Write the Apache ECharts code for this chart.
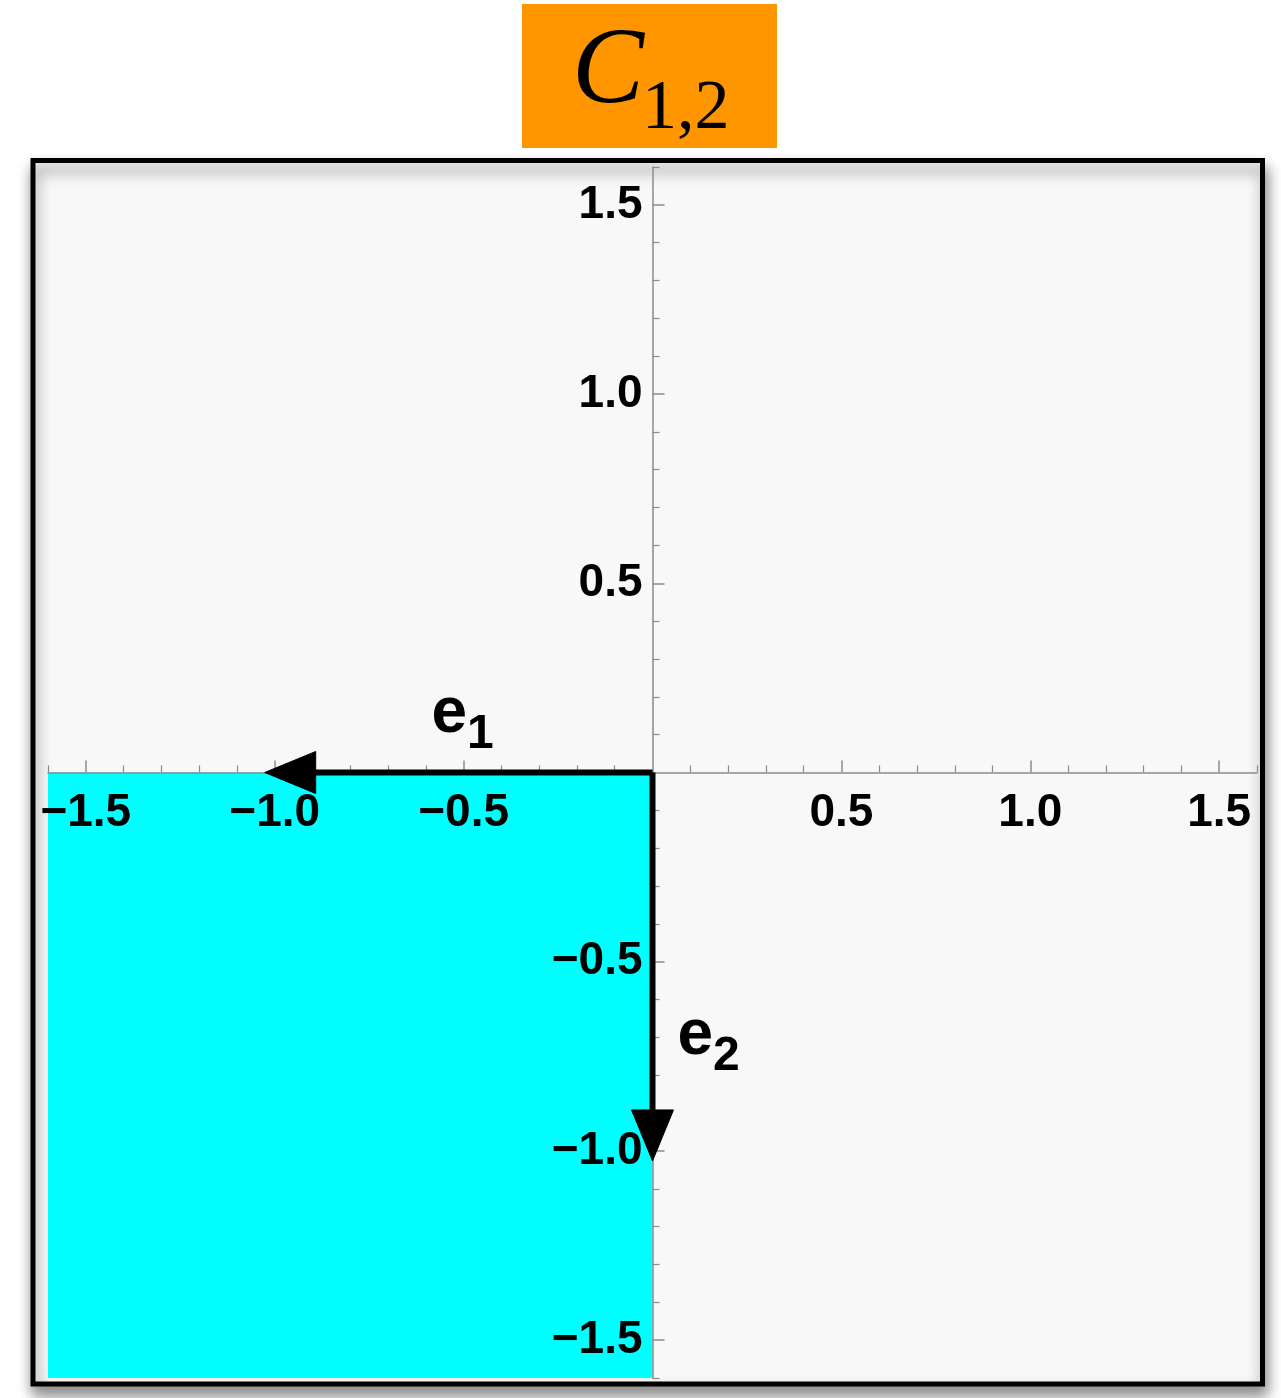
<!DOCTYPE html>
<html>
<head>
<meta charset="utf-8">
<script src="https://cdn.jsdelivr.net/npm/echarts@6/dist/echarts.min.js"></script>
<style>
  html, body { margin: 0; padding: 0; background: #ffffff; }
  #chart { width: 1281px; height: 1398px; }
</style>
</head>
<body>
<div id="chart"></div>
<script>
// Plot range shared by both axes
const axisRange = [-1.6, 1.6];
// Labelled (major) tick values
const majorTicks = [-1.5, -1.0, -0.5, 0.5, 1.0, 1.5];
// Unlabelled (minor) tick values
const minorTicks = [-1.6, -1.4, -1.3, -1.2, -1.1, -0.9, -0.8, -0.7, -0.6, -0.4, -0.3, -0.2, -0.1,
                    0.1, 0.2, 0.3, 0.4, 0.6, 0.7, 0.8, 0.9, 1.1, 1.2, 1.3, 1.4, 1.6];
// Shaded cone C_{1,2}: opposite corners [x, y]
const coneCorners = [[-1.6, -1.6], [0, 0]];
// Generating vectors e1, e2 (from the origin)
const vectorStart = [0, 0];
const vectorEnds = [[-1, 0], [0, -1]];
const vectorSubscripts = ['1', '2'];
// Where each vector's name is written (data coordinates, left-middle of the "e")
const vectorLabelAt = [[-0.585, 0.153], [0.066, -0.696]];

// Canvas and plot-area layout (pixels)
const CANVAS_W = 1281, CANVAS_H = 1398;
const GRID = { left: 48, right: 24, top: 167, bottom: 20 };
const PLOT_W = CANVAS_W - GRID.left - GRID.right;
const PLOT_H = CANVAS_H - GRID.top - GRID.bottom;

const AXIS_GREY = '#8c8c8c';
const LABEL_FONT = '"Liberation Sans", Arial, Helvetica, sans-serif';

function tickLabel(v) {
  return (v < 0 ? '\u2212' : '') + Math.abs(v).toFixed(1);
}

// Both axes cross at the origin: shift each one from its grid edge to zero.
function originOffset(extent) {
  return (0 - axisRange[0]) / (axisRange[1] - axisRange[0]) * extent;
}

function axisPair(dim) {
  const position = dim === 'x' ? 'bottom' : 'left';
  const offset = -originOffset(dim === 'x' ? PLOT_H : PLOT_W);
  const common = {
    type: 'value',
    min: axisRange[0],
    max: axisRange[1],
    position: position,
    offset: offset,
    z: 2,
    splitLine: { show: false }
  };
  const major = Object.assign({}, common, {
    axisLine: { show: true, onZero: false,
                lineStyle: { color: AXIS_GREY, width: 1.5 } },
    axisTick: { show: true, inside: true, length: 12, customValues: majorTicks,
                lineStyle: { color: AXIS_GREY, width: 1.5 } },
    axisLabel: {
      show: true,
      customValues: majorTicks,
      formatter: tickLabel,
      margin: dim === 'x' ? 18 : 10,
      color: '#000000',
      fontFamily: LABEL_FONT,
      fontWeight: 'bold',
      fontSize: 46
    }
  });
  const minor = Object.assign({}, common, {
    axisLine: { show: false, onZero: false },
    axisTick: { show: true, inside: true, length: 7, customValues: minorTicks,
                lineStyle: { color: AXIS_GREY, width: 1.2 } },
    axisLabel: { show: false }
  });
  return [major, minor];
}

const chart = echarts.init(document.getElementById('chart'), null, { renderer: 'canvas' });

const vectorData = vectorEnds.map(function (end, i) {
  return [vectorStart[0], vectorStart[1], end[0], end[1], vectorLabelAt[i][0], vectorLabelAt[i][1]];
});

const option = {
  animation: false,
  backgroundColor: '#ffffff',
  grid: { left: GRID.left, right: GRID.right, top: GRID.top, bottom: GRID.bottom, show: false,
          containLabel: false, outerBoundsMode: 'none' },
  xAxis: axisPair('x'),
  yAxis: axisPair('y'),
  graphic: [
    // framed panel with its drop shadow
    {
      type: 'rect', z: -10, silent: true,
      shape: { x: 33, y: 160.5, width: 1229.5, height: 1223.5 },
      style: { fill: '#f8f8f8', stroke: '#000000', lineWidth: 5,
               shadowBlur: 14, shadowOffsetX: 2, shadowOffsetY: 9,
               shadowColor: 'rgba(0,0,0,0.45)' }
    },
    // title badge
    {
      type: 'group', silent: true,
      children: [
        { type: 'rect', shape: { x: 522, y: 4, width: 255, height: 144 },
          style: { fill: '#ff9600' } },
        { type: 'text', x: 572, y: 73.5,
          style: { text: 'C', fill: '#000000', align: 'left', verticalAlign: 'middle',
                   font: 'italic 108px "Liberation Serif", "Times New Roman", serif' } },
        { type: 'text', x: 642, y: 109.5,
          style: { text: '1,2', fill: '#000000', align: 'left', verticalAlign: 'middle',
                   font: '70px "Liberation Serif", "Times New Roman", serif' } }
      ]
    }
  ],
  series: [
    {
      // the cone spanned by e1 and e2
      type: 'custom',
      name: 'cone',
      z: 1,
      silent: true,
      xAxisIndex: 0,
      yAxisIndex: 0,
      clip: true,
      data: [[coneCorners[0][0], coneCorners[0][1], coneCorners[1][0], coneCorners[1][1]]],
      encode: { x: [0, 2], y: [1, 3] },
      renderItem: function (params, api) {
        const a = api.coord([api.value(0), api.value(1)]);
        const b = api.coord([api.value(2), api.value(3)]);
        return {
          type: 'rect',
          shape: { x: Math.min(a[0], b[0]), y: Math.min(a[1], b[1]),
                   width: Math.abs(b[0] - a[0]), height: Math.abs(b[1] - a[1]) },
          style: { fill: '#00ffff' }
        };
      }
    },
    {
      // arrows for e1, e2 with their names
      type: 'custom',
      name: 'vectors',
      z: 4,
      silent: true,
      xAxisIndex: 0,
      yAxisIndex: 0,
      clip: false,
      data: vectorData,
      encode: { x: [0, 2], y: [1, 3] },
      renderItem: function (params, api) {
        const p0 = api.coord([api.value(0), api.value(1)]);
        const p1 = api.coord([api.value(2), api.value(3)]);
        const lab = api.coord([api.value(4), api.value(5)]);
        const dx = p1[0] - p0[0], dy = p1[1] - p0[1];
        const len = Math.sqrt(dx * dx + dy * dy);
        const ux = dx / len, uy = dy / len;
        const px = -uy, py = ux;
        const headLen = 51, headHalf = 21, overshoot = 10;
        const tip = [p1[0] + ux * overshoot, p1[1] + uy * overshoot];
        const base = [tip[0] - ux * headLen, tip[1] - uy * headLen];
        const sub = vectorSubscripts[params.dataIndex];
        return {
          type: 'group',
          children: [
            { type: 'line',
              shape: { x1: p0[0], y1: p0[1], x2: base[0] + ux * 4, y2: base[1] + uy * 4 },
              style: { stroke: '#000000', lineWidth: 6 } },
            { type: 'polygon',
              shape: { points: [tip,
                                [base[0] + px * headHalf, base[1] + py * headHalf],
                                [base[0] - px * headHalf, base[1] - py * headHalf]] },
              style: { fill: '#000000', stroke: '#000000', lineWidth: 1 } },
            { type: 'text', x: lab[0], y: lab[1],
              style: { text: 'e', fill: '#000000', align: 'left', verticalAlign: 'middle',
                       font: 'bold 64px ' + LABEL_FONT } },
            { type: 'text', x: lab[0] + 35.5, y: lab[1] + 20.5,
              style: { text: sub, fill: '#000000', align: 'left', verticalAlign: 'middle',
                       font: 'bold 48px ' + LABEL_FONT } }
          ]
        };
      }
    }
  ]
};

chart.setOption(option);
</script>
</body>
</html>
